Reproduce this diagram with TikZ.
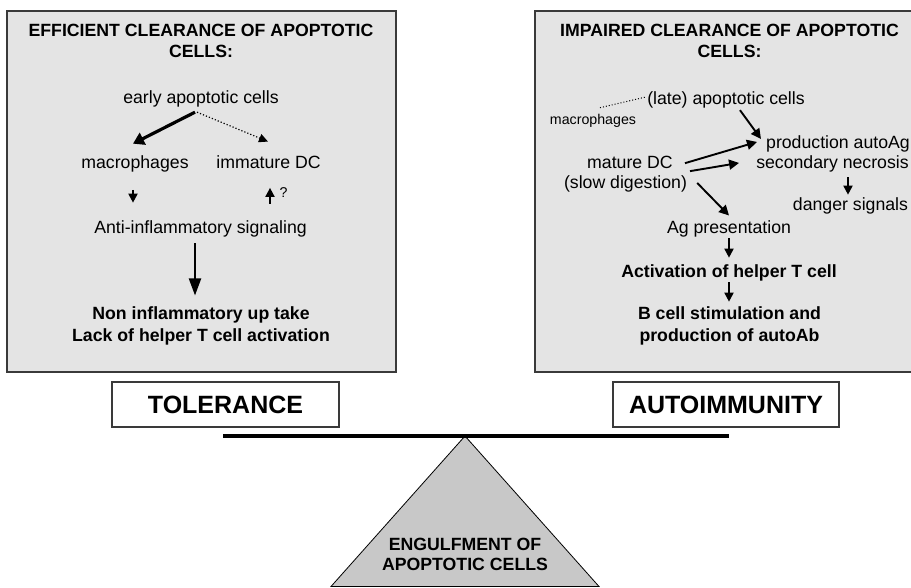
\documentclass[tikz,border=0pt]{standalone}
\usepackage{fontspec}
\setmainfont{Liberation Sans}
\usetikzlibrary{arrows.meta,calc}
\definecolor{boxgray}{HTML}{E4E4E4}
\definecolor{trigray}{HTML}{C8C8C8}
\definecolor{edgegray}{HTML}{3A3A3A}
\begin{document}
\begin{tikzpicture}[x=1pt,y=-1pt,
  txt/.style={inner sep=0pt, anchor=base, font=\fontsize{17.7}{21}\selectfont},
  btxt/.style={inner sep=0pt, anchor=base, font=\fontsize{17.7}{21}\selectfont\bfseries},
  smalltxt/.style={inner sep=0pt, anchor=base, font=\fontsize{14.2}{17}\selectfont},
  bigbox/.style={draw=edgegray, fill=boxgray, line width=1.5pt},
  labelbox/.style={draw=edgegray, fill=white, line width=1.5pt, inner sep=0pt,
    minimum height=45pt, font=\fontsize{25}{30}\selectfont\bfseries},
  arr/.style={line width=1.8pt, -{Triangle[length=9pt,width=9pt]}},
  marr/.style={line width=1.9pt, -{Triangle[length=10pt,width=10pt]}},
  thickarr/.style={line width=3.2pt, -{Triangle[length=11pt,width=13pt]}},
  longarr/.style={line width=2pt, -{Triangle[length=17pt,width=12pt]}},
  dotarr/.style={line width=1.2pt, dotted, -{Triangle[length=9pt,width=8.5pt]}},
  dotline/.style={line width=1pt, dotted}]
\useasboundingbox (0,0) rectangle (911,587);
\clip (0,0) rectangle (911,587);

% panels
\draw[bigbox] (7,11) rectangle (396,372);
\draw[bigbox] (535,11) rectangle (930,372);

% ---- left panel ----
\node[btxt] (t1a) at (201,36) {EFFICIENT CLEARANCE OF APOPTOTIC};
\node[btxt] (t1b) at (201,57) {CELLS:};
\node[txt] (early) at (201,103) {early apoptotic cells};
\node[txt] (mac) at (135,168) {macrophages};
\node[txt] (imm) at (268.5,168) {immature DC};
\node[smalltxt] (q) at (283.5,197) {?};
\node[txt] (anti) at (200.5,233) {Anti-inflammatory signaling};
\node[btxt] (non) at (201,319) {Non inflammatory up take};
\node[btxt] (lack) at (201,341) {Lack of helper T cell activation};

\draw[thickarr] ($(early.south)+(-6,5.3)$) -- ($(mac.north)+(-2,-11.3)$);
\draw[dotarr] ($(early.south)+(-4,5.3)$) -- ($(imm.north)+(-0.5,-13.4)$);
\draw[arr] ($(mac.south)+(-2,18)$) -- ($(anti.north)+(-67.5,-17.3)$);
\draw[arr] ($(anti.north)+(69.5,-16.3)$) -- ($(imm.south)+(1.5,19.5)$);
\draw[longarr] ($(anti.south)+(-5.5,6.3)$) -- ($(non.north)+(-6,-10.5)$);

% ---- right panel ----
\node[btxt] (t2a) at (729.5,36) {IMPAIRED CLEARANCE OF APOPTOTIC};
\node[btxt] (t2b) at (729.5,57) {CELLS:};
\node[txt] (late) at (726,104) {(late) apoptotic cells};
\node[smalltxt] (mac2) at (593,124) {macrophages};
\node[txt] (prod) at (838,148) {production autoAg};
\node[txt] (sec) at (832.5,168) {secondary necrosis};
\node[txt] (mature) at (630,168) {mature DC};
\node[txt] (slow) at (625.5,188) {(slow digestion)};
\node[txt] (danger) at (850.5,210) {danger signals};
\node[txt] (agp) at (729,233) {Ag presentation};
\node[btxt] (act) at (729,277) {Activation of helper T cell};
\node[btxt] (bcell) at (729.5,319) {B cell stimulation and};
\node[btxt] (prodab) at (729.5,341) {production of autoAb};

\draw[dotline] ($(mac2.north)+(7,-5.8)$) -- ($(late.west)+(-1,-2.5)$);
\draw[marr] ($(late.south)+(14,2.3)$) -- ($(prod.west)+(-5,-4.5)$);
\draw[marr] ($(mature.east)+(12,1.25)$) -- ($(prod.west)+(-9,-1.5)$);
\draw[marr] ($(mature.east)+(17,9.25)$) -- ($(sec.west)+(-17,-0.5)$);
\draw[arr] ($(sec.south)+(15.5,5.3)$) -- ($(danger.north)+(-2.5,-2.3)$);
\draw[marr] ($(slow.east)+(10,-0.5)$) -- ($(agp.north)+(0,-4.5)$);
\draw[arr] ($(agp.south)+(0,1.3)$) -- ($(act.north)+(0,-6.3)$);
\draw[arr] ($(act.south)+(0,1.3)$) -- ($(bcell.north)+(-0.5,-4.3)$);

% ---- balance ----
\node[labelbox, minimum width=227pt] (tol) at (225.5,404.5) {TOLERANCE};
\node[labelbox, minimum width=226pt] (auto) at (726,404.5) {AUTOIMMUNITY};
\draw[fill=trigray, line width=0.8pt] (465,436) -- (331,586.5) -- (599,586.5) -- cycle;
\draw[line width=4.2pt] (223,436) -- (729,436);
\node[btxt] (eng1) at (465,550) {ENGULFMENT OF};
\node[btxt] (eng2) at (465,570) {APOPTOTIC CELLS};
\end{tikzpicture}
\end{document}
